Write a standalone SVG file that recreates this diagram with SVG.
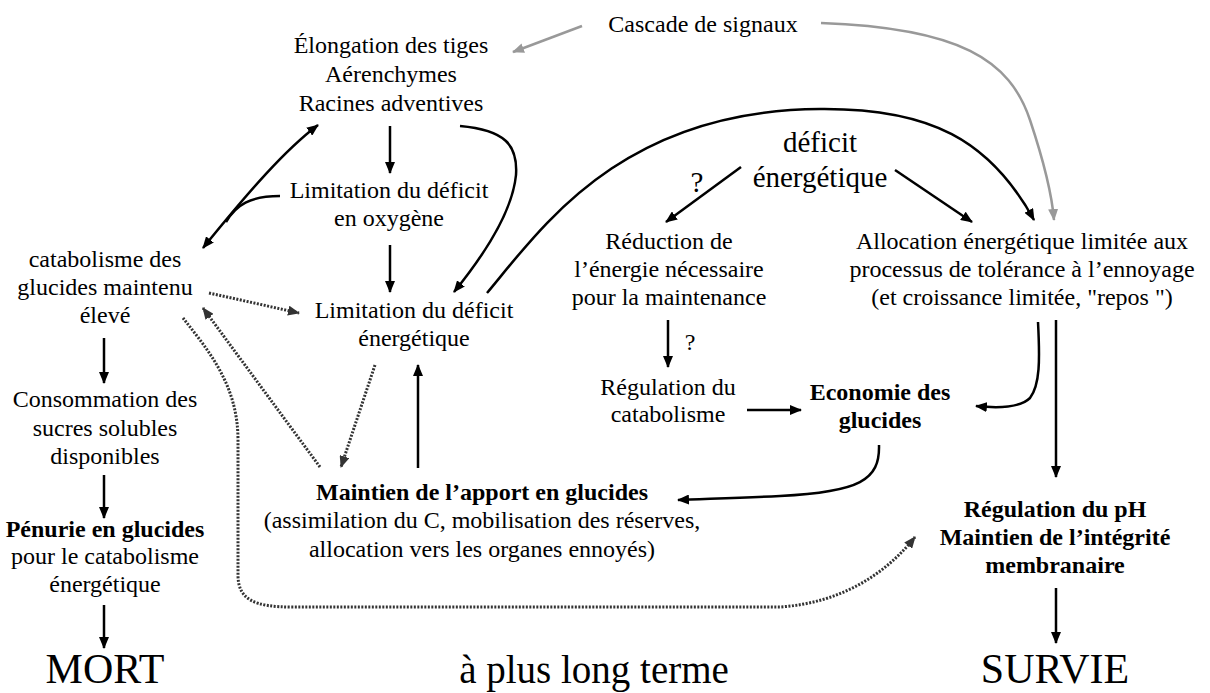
<svg xmlns="http://www.w3.org/2000/svg" width="1210" height="693" viewBox="0 0 1210 693">
<style>
text{font-family:"Liberation Serif","Times New Roman",serif;font-size:24px;fill:#000;text-anchor:middle}
.b{font-weight:bold}
.big{font-size:42px}
.mid{font-size:29px}
.k{fill:none;stroke:#000;stroke-width:2.5}
.g{fill:none;stroke:#999;stroke-width:2.5}
.d{fill:none;stroke:#333;stroke-width:3;stroke-dasharray:2 1.5}
</style>
<defs>
<marker id="ak" viewBox="0 0 12 10" refX="11" refY="5" markerWidth="12" markerHeight="10" orient="auto-start-reverse" markerUnits="userSpaceOnUse"><path d="M0,0 L12,5 L0,10 z" fill="#000"/></marker>
<marker id="ag" viewBox="0 0 12 10" refX="11" refY="5" markerWidth="12" markerHeight="10" orient="auto" markerUnits="userSpaceOnUse"><path d="M0,0 L12,5 L0,10 z" fill="#999"/></marker>
<marker id="ad" viewBox="0 0 12 10" refX="11" refY="5" markerWidth="12" markerHeight="10" orient="auto" markerUnits="userSpaceOnUse"><path d="M0,0 L12,5 L0,10 z" fill="#333"/></marker>
</defs>
<rect width="1210" height="693" fill="#fff"/>
<g id="connectors">
<path class="g" d="M582,26 L513,52" marker-end="url(#ag)"/>
<path class="g" d="M821,23 C960,28 1010,60 1030,120 C1045,165 1052,195 1054,220" marker-end="url(#ag)"/>
<path class="k" d="M390,126 L390,173" marker-end="url(#ak)"/>
<path class="k" d="M390,245 L390,292" marker-end="url(#ak)"/>
<path class="k" d="M460,126 C505,130 518,145 516,175 C512,215 480,260 454,292" marker-end="url(#ak)"/>
<path class="k" d="M318,125 C285,150 250,190 203,248" marker-start="url(#ak)" marker-end="url(#ak)"/>
<path class="k" d="M280,196 C250,196 236,205 226,222"/>
<path class="d" d="M209,293 L299,313" marker-end="url(#ad)"/>
<path class="d" d="M320,467 L203,308" marker-end="url(#ad)"/>
<path class="d" d="M375,365 L341,467" marker-end="url(#ad)"/>
<path class="d" d="M183,318 C208,350 238,385 238,440 L238,575 C238,600 255,607 292,607 L780,607 C840,603 885,575 915,537" marker-end="url(#ad)"/>
<path class="k" d="M418,468 L418,365" marker-end="url(#ak)"/>
<path class="k" d="M104,338 L104,383" marker-end="url(#ak)"/>
<path class="k" d="M104,475 L104,518" marker-end="url(#ak)"/>
<path class="k" d="M104,605 L104,648" marker-end="url(#ak)"/>
<path class="k" d="M487,293 C540,230 620,110 820,109 C930,108 990,140 1034,220" marker-end="url(#ak)"/>
<path class="k" d="M741,167 L666,222" marker-end="url(#ak)"/>
<path class="k" d="M895,170 L972,222" marker-end="url(#ak)"/>
<path class="k" d="M668,320 L668,367" marker-end="url(#ak)"/>
<path class="k" d="M747,410 L801,410" marker-end="url(#ak)"/>
<path class="k" d="M1038,322 C1040,360 1040,385 1030,398 C1020,408 995,408 976,406" marker-end="url(#ak)"/>
<path class="k" d="M1056,320 L1056,477" marker-end="url(#ak)"/>
<path class="k" d="M879,445 C880,480 860,492 780,496 C740,498 700,499 678,500" marker-end="url(#ak)"/>
<path class="k" d="M1056,588 L1056,643" marker-end="url(#ak)"/>
</g>
<g id="n-cascade"><text x="703" y="32">Cascade de signaux</text></g>
<g id="n-elongation"><text x="391" y="53">Élongation des tiges</text><text x="391" y="82">Aérenchymes</text><text x="391" y="111">Racines adventives</text></g>
<g id="n-lim-o2"><text x="389" y="198">Limitation du déficit</text><text x="389" y="226">en oxygène</text></g>
<g id="n-lim-energie"><text x="414" y="318">Limitation du déficit</text><text x="414" y="346">énergétique</text></g>
<g id="n-catabolisme"><text x="105" y="267">catabolisme des</text><text x="105" y="295">glucides maintenu</text><text x="105" y="323">élevé</text></g>
<g id="n-consommation"><text x="105" y="407">Consommation des</text><text x="105" y="436">sucres solubles</text><text x="105" y="464">disponibles</text></g>
<g id="n-penurie"><text class="b" x="105" y="537">Pénurie en glucides</text><text x="105" y="564">pour le catabolisme</text><text x="105" y="592">énergétique</text></g>
<g id="n-mort"><text class="big" x="105" y="683">MORT</text></g>
<g id="n-maintien"><text class="b" x="482" y="500">Maintien de l’apport en glucides</text><text x="482" y="528">(assimilation du C, mobilisation des réserves,</text><text x="482" y="557">allocation vers les organes ennoyés)</text></g>
<g id="n-terme"><text x="594" y="683" style="font-size:39px">à plus long terme</text></g>
<g id="n-deficit"><text class="mid" x="820" y="152">déficit</text><text class="mid" x="820" y="187">énergétique</text><text class="mid" x="697" y="192">?</text></g>
<g id="n-reduction"><text x="669" y="249">Réduction de</text><text x="669" y="277">l’énergie nécessaire</text><text x="669" y="305">pour la maintenance</text><text x="690" y="350">?</text></g>
<g id="n-allocation"><text x="1022" y="249">Allocation énergétique limitée aux</text><text x="1022" y="277">processus de tolérance à l’ennoyage</text><text x="1022" y="305">(et croissance limitée, "repos ")</text></g>
<g id="n-regulation-cat"><text x="668" y="395">Régulation du</text><text x="668" y="422">catabolisme</text></g>
<g id="n-economie"><text class="b" x="880" y="400">Economie des</text><text class="b" x="880" y="428">glucides</text></g>
<g id="n-ph"><text class="b" x="1055" y="517">Régulation du pH</text><text class="b" x="1055" y="545">Maintien de l’intégrité</text><text class="b" x="1055" y="573">membranaire</text></g>
<g id="n-survie"><text class="big" x="1055" y="683">SURVIE</text></g>
</svg>
